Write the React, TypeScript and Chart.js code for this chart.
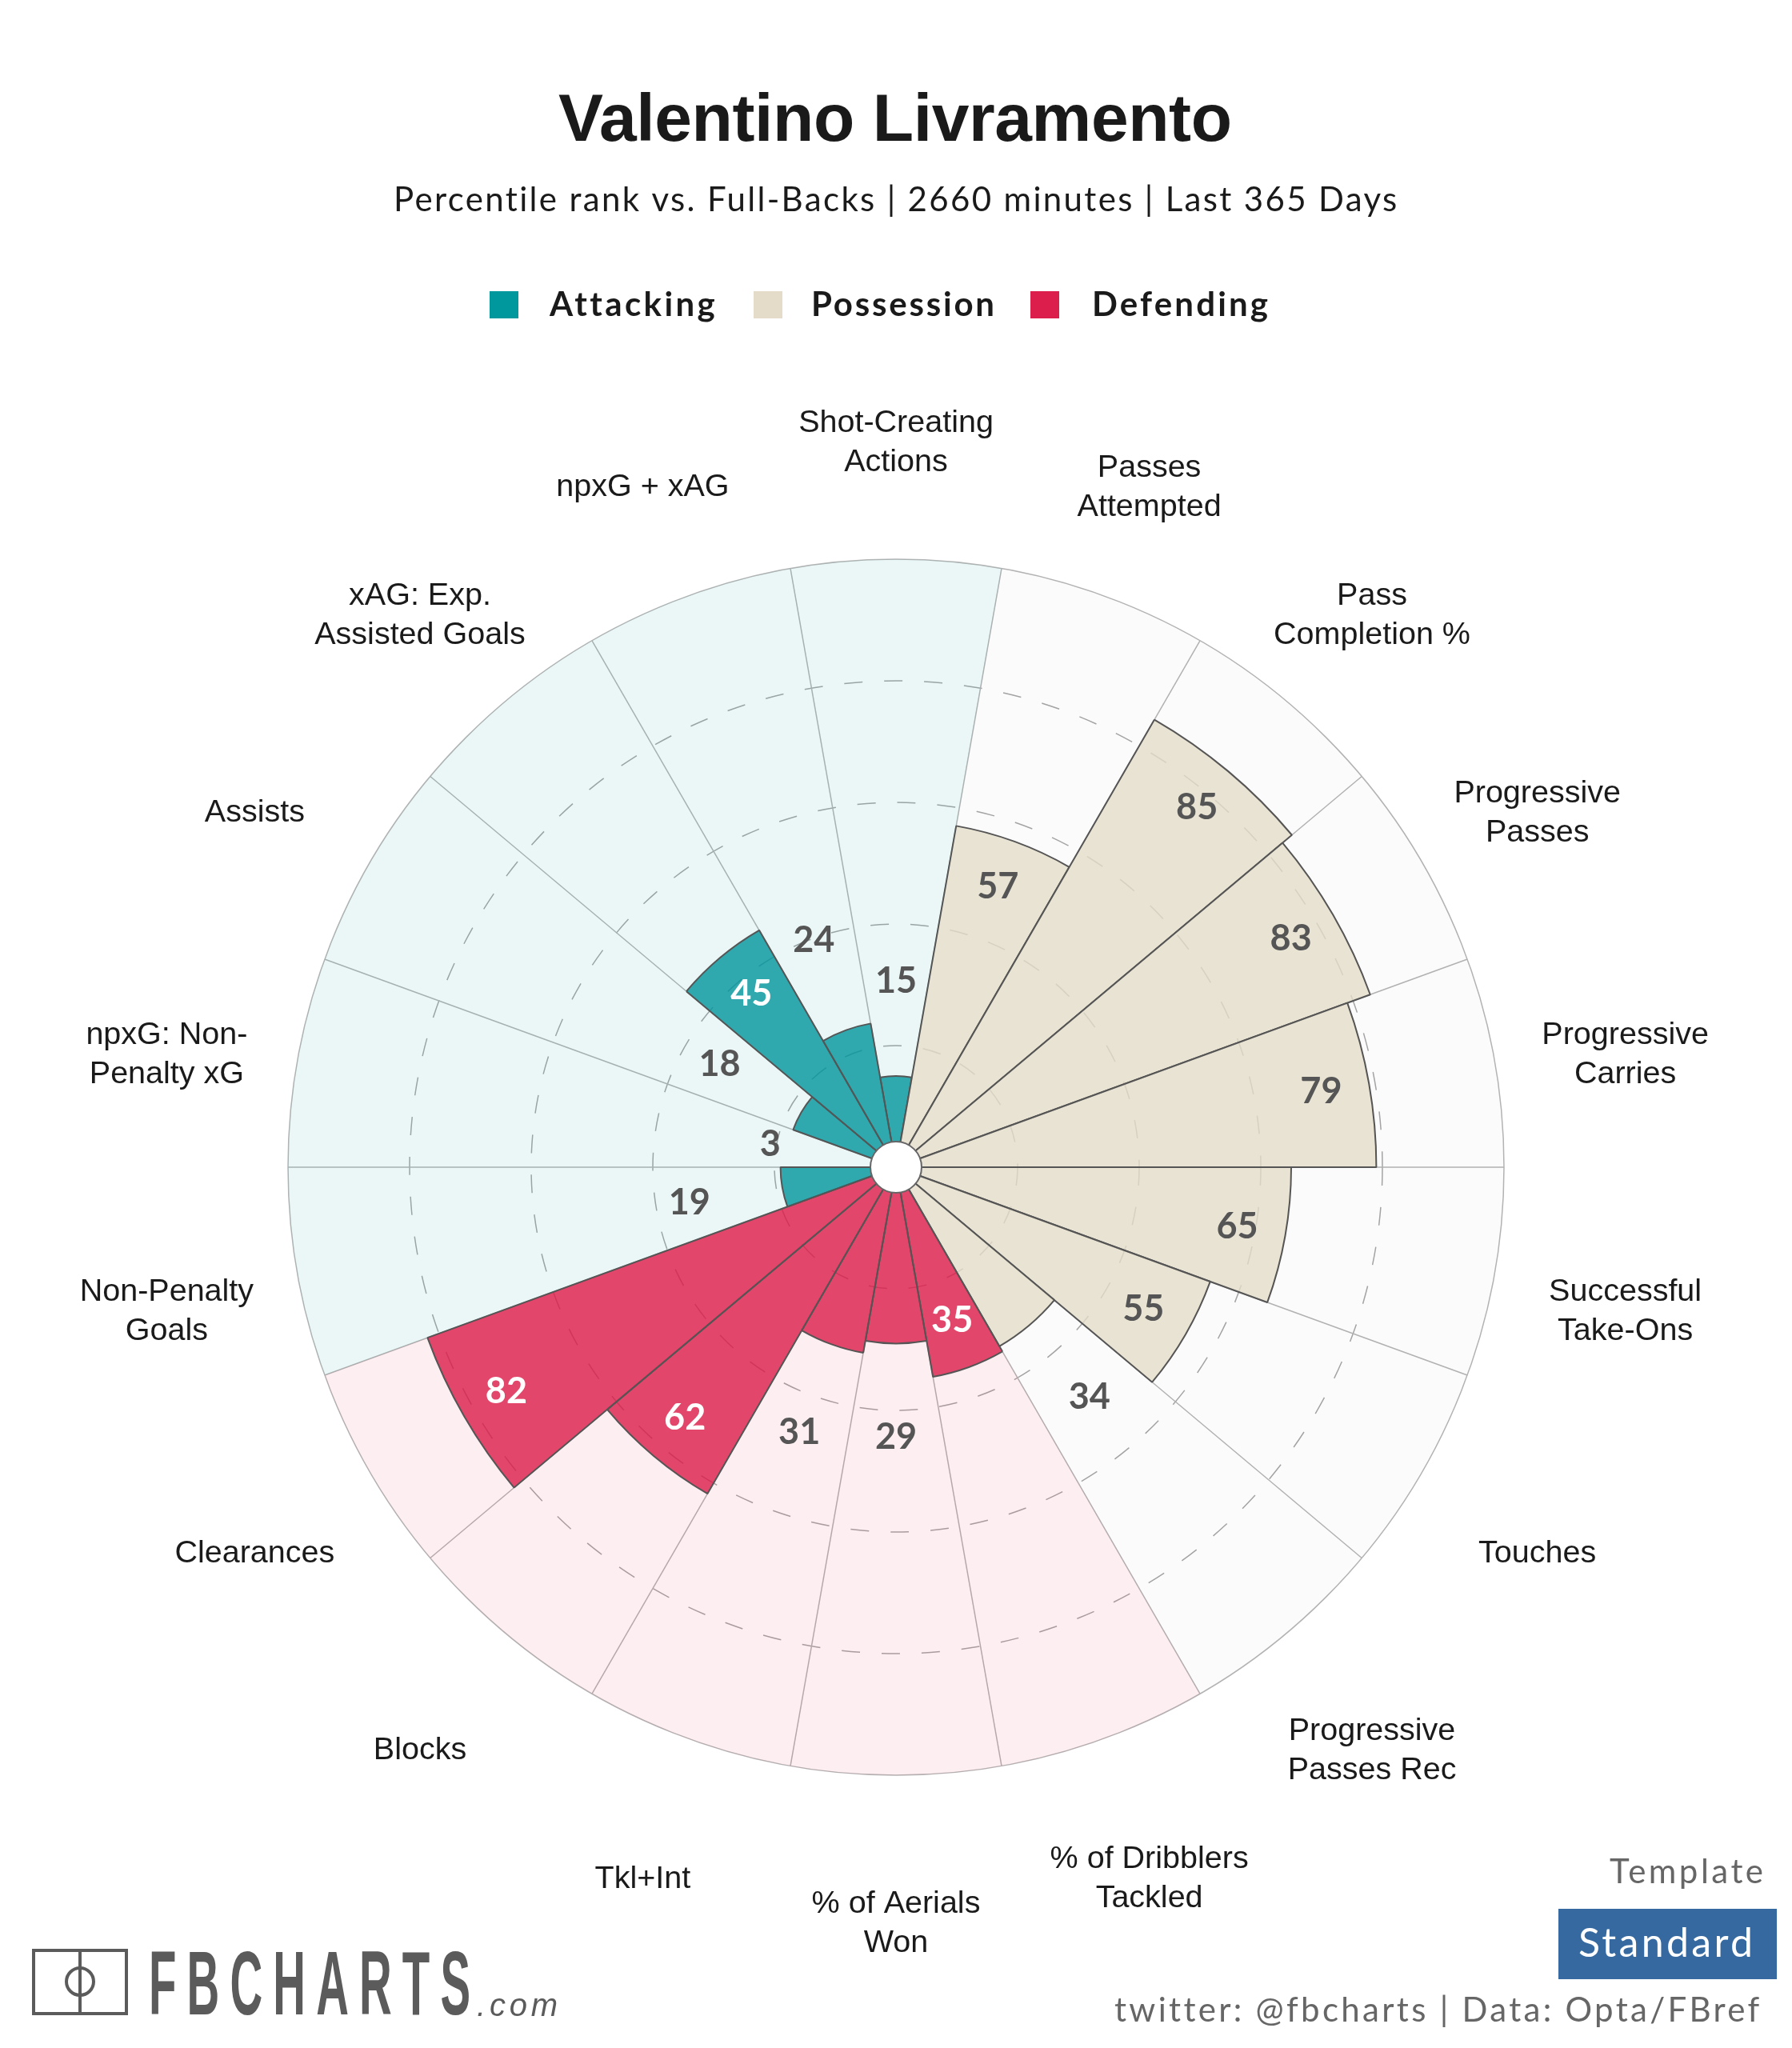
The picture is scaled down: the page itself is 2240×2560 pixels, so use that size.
import React, { useEffect, useRef } from "react";
import { Chart, registerables } from "chart.js";

Chart.register(...registerables);

const playerName = "Valentino Livramento";
const subtitleText = "Percentile rank vs. Full-Backs | 2660 minutes | Last 365 Days";

const categories: string[][] = [
  ["Shot-Creating", "Actions"],
  ["Passes", "Attempted"],
  ["Pass", "Completion %"],
  ["Progressive", "Passes"],
  ["Progressive", "Carries"],
  ["Successful", "Take-Ons"],
  ["Touches"],
  ["Progressive", "Passes Rec"],
  ["% of Dribblers", "Tackled"],
  ["% of Aerials", "Won"],
  ["Tkl+Int"],
  ["Blocks"],
  ["Clearances"],
  ["Non-Penalty", "Goals"],
  ["npxG: Non-", "Penalty xG"],
  ["Assists"],
  ["xAG: Exp.", "Assisted Goals"],
  ["npxG + xAG"],
];
const percentiles = [15, 57, 85, 83, 79, 65, 55, 34, 35, 29, 31, 62, 82, 19, 3, 18, 45, 24];
const groups = ["A", "P", "P", "P", "P", "P", "P", "P", "D", "D", "D", "D", "D", "A", "A", "A", "A", "A"];
const fullScale = percentiles.map(() => 100);

const barColors: Record<string, string> = {
  A: "rgba(0,149,156,0.8)",
  P: "rgba(228,220,200,0.8)",
  D: "rgba(220,28,73,0.8)",
};
const paleColors: Record<string, string> = {
  A: "rgba(0,149,156,0.08)",
  P: "rgba(0,0,0,0.014)",
  D: "rgba(220,28,73,0.075)",
};

const sans = '"Liberation Sans", Arial, sans-serif';
const soft = 'Lato, "Noto Sans", sans-serif';

function spaced(ctx: any, text: string, font: string, x0: number, x1: number, y: number, color: string) {
  ctx.font = font;
  ctx.letterSpacing = "0px";
  const w = ctx.measureText(text).width;
  const sp = (x1 - x0 - w) / Math.max(1, text.length - 1);
  ctx.letterSpacing = sp + "px";
  ctx.textAlign = "left";
  ctx.textBaseline = "alphabetic";
  ctx.fillStyle = color;
  ctx.fillText(text, x0, y);
  ctx.letterSpacing = "0px";
}

const decorPlugin = {
  id: "decor",
  afterDatasetsDraw(chart: any) {
    const ctx = chart.ctx;
    const scale = chart.scales.r;
    ctx.save();
    // centre hole
    ctx.beginPath();
    ctx.arc(scale.xCenter, scale.yCenter, 32, 0, Math.PI * 2);
    ctx.fillStyle = "#ffffff";
    ctx.fill();
    ctx.lineWidth = 2;
    ctx.strokeStyle = "#666666";
    ctx.stroke();

    // value labels
    ctx.textAlign = "center";
    ctx.textBaseline = "middle";
    ctx.font = `700 45px ${soft}`;
    percentiles.forEach((v, i) => {
      const inside = v >= 35;
      const at = inside ? v - 8 : Math.max(v + 15.5, 21);
      const pos = scale.getPointPosition(i + 0.5, scale.getDistanceFromCenterForValue(at));
      ctx.fillStyle = inside && groups[i] !== "P" ? "#ffffff" : "#555555";
      ctx.fillText(String(v), pos.x, pos.y - 1);
    });

    // category labels
    ctx.font = `39.5px ${sans}`;
    ctx.fillStyle = "#1a1a1a";
    categories.forEach((lines, i) => {
      const pos = scale.getPointPosition(i + 0.5, scale.drawingArea * 1.218);
      const cy = pos.y + 20;
      lines.forEach((ln, k) => {
        ctx.fillText(ln, pos.x, cy + (k - (lines.length - 1) / 2) * 49);
      });
    });

    // title block
    spaced(ctx, playerName, `700 84px ${sans}`, 698, 1540, 176, "#1a1a1a");
    spaced(ctx, subtitleText, `42px ${soft}`, 492, 1747, 264, "#1a1a1a");

    // legend
    const legend = [
      { t: "Attacking", sq: 612, x0: 687, x1: 892, c: "#00979d" },
      { t: "Possession", sq: 942, x0: 1014, x1: 1243, c: "#e4dcc8" },
      { t: "Defending", sq: 1288, x0: 1365, x1: 1585, c: "#dc1e4d" },
    ];
    legend.forEach((l) => {
      ctx.fillStyle = l.c;
      ctx.fillRect(l.sq, 364, 36, 34);
      spaced(ctx, l.t, `700 42px ${soft}`, l.x0, l.x1, 395, "#1a1a1a");
    });

    // template badge
    spaced(ctx, "Template", `42px ${soft}`, 2012, 2204, 2354, "#666666");
    ctx.fillStyle = "#3669a0";
    ctx.fillRect(1948, 2386, 273, 88);
    spaced(ctx, "Standard", `50px ${soft}`, 1973, 2191, 2446, "#ffffff");
    spaced(ctx, "twitter: @fbcharts | Data: Opta/FBref", `42px ${soft}`, 1393, 2198, 2527, "#666666");

    // logo
    ctx.strokeStyle = "#5b5b5b";
    ctx.lineWidth = 4;
    ctx.strokeRect(42, 2438, 116, 79);
    ctx.beginPath();
    ctx.moveTo(100, 2438);
    ctx.lineTo(100, 2517);
    ctx.stroke();
    ctx.beginPath();
    ctx.arc(100, 2477, 17, 0, Math.PI * 2);
    ctx.stroke();

    ctx.save();
    const word = "FBCHARTS";
    ctx.font = `700 60px "Liberation Sans Narrow", ${sans}`;
    ctx.letterSpacing = "14px";
    const ww = ctx.measureText(word).width - 14;
    ctx.translate(186, 2518);
    ctx.scale(402 / ww, 81 / 43);
    ctx.textAlign = "left";
    ctx.textBaseline = "alphabetic";
    ctx.fillStyle = "#5b5b5b";
    ctx.fillText(word, 0, 0);
    ctx.restore();

    spaced(ctx, ".com", `italic 40px ${sans}`, 596, 697, 2520, "#5b5b5b");
    ctx.restore();
  },
};

export default function App() {
  const ref = useRef<HTMLCanvasElement>(null);

  useEffect(() => {
    document.body.style.margin = "0";
    const isOuter = (c: any) => !!c.tick && c.tick.value === 100;
    const chart = new Chart(ref.current as HTMLCanvasElement, {
      type: "polarArea",
      data: {
        labels: categories.map((c) => c.join(" ")),
        datasets: [
          {
            data: percentiles,
            backgroundColor: groups.map((g) => barColors[g]),
            borderColor: "#555555",
            borderWidth: 2,
          },
          {
            data: fullScale,
            backgroundColor: groups.map((g) => paleColors[g]),
            borderWidth: 0,
          },
        ],
      },
      options: {
        responsive: false,
        animation: false,
        devicePixelRatio: 1,
        layout: { padding: { left: 360, right: 360, top: 699, bottom: 341 } },
        plugins: { legend: { display: false }, tooltip: { enabled: false } },
        scales: {
          r: {
            min: 0,
            max: 100,
            startAngle: -10,
            ticks: { display: false, stepSize: 20 },
            pointLabels: { display: false },
            angleLines: { display: true, color: "#b4b4b4", lineWidth: 1.5 },
            grid: {
              circular: true,
              lineWidth: 1.5,
              color: (c: any) => (isOuter(c) ? "#b4b4b4" : "#a6a6a6"),
            },
            border: { dash: (c: any) => (isOuter(c) ? [] : [23, 27]) },
          },
        },
      } as any,
      plugins: [decorPlugin],
    });
    return () => chart.destroy();
  }, []);

  return (
    <div style={{ position: "absolute", left: 0, top: 0, width: 2240, height: 2560, background: "#fff" }}>
      <canvas ref={ref} width={2240} height={2560} style={{ display: "block", width: 2240, height: 2560 }} />
    </div>
  );
}
